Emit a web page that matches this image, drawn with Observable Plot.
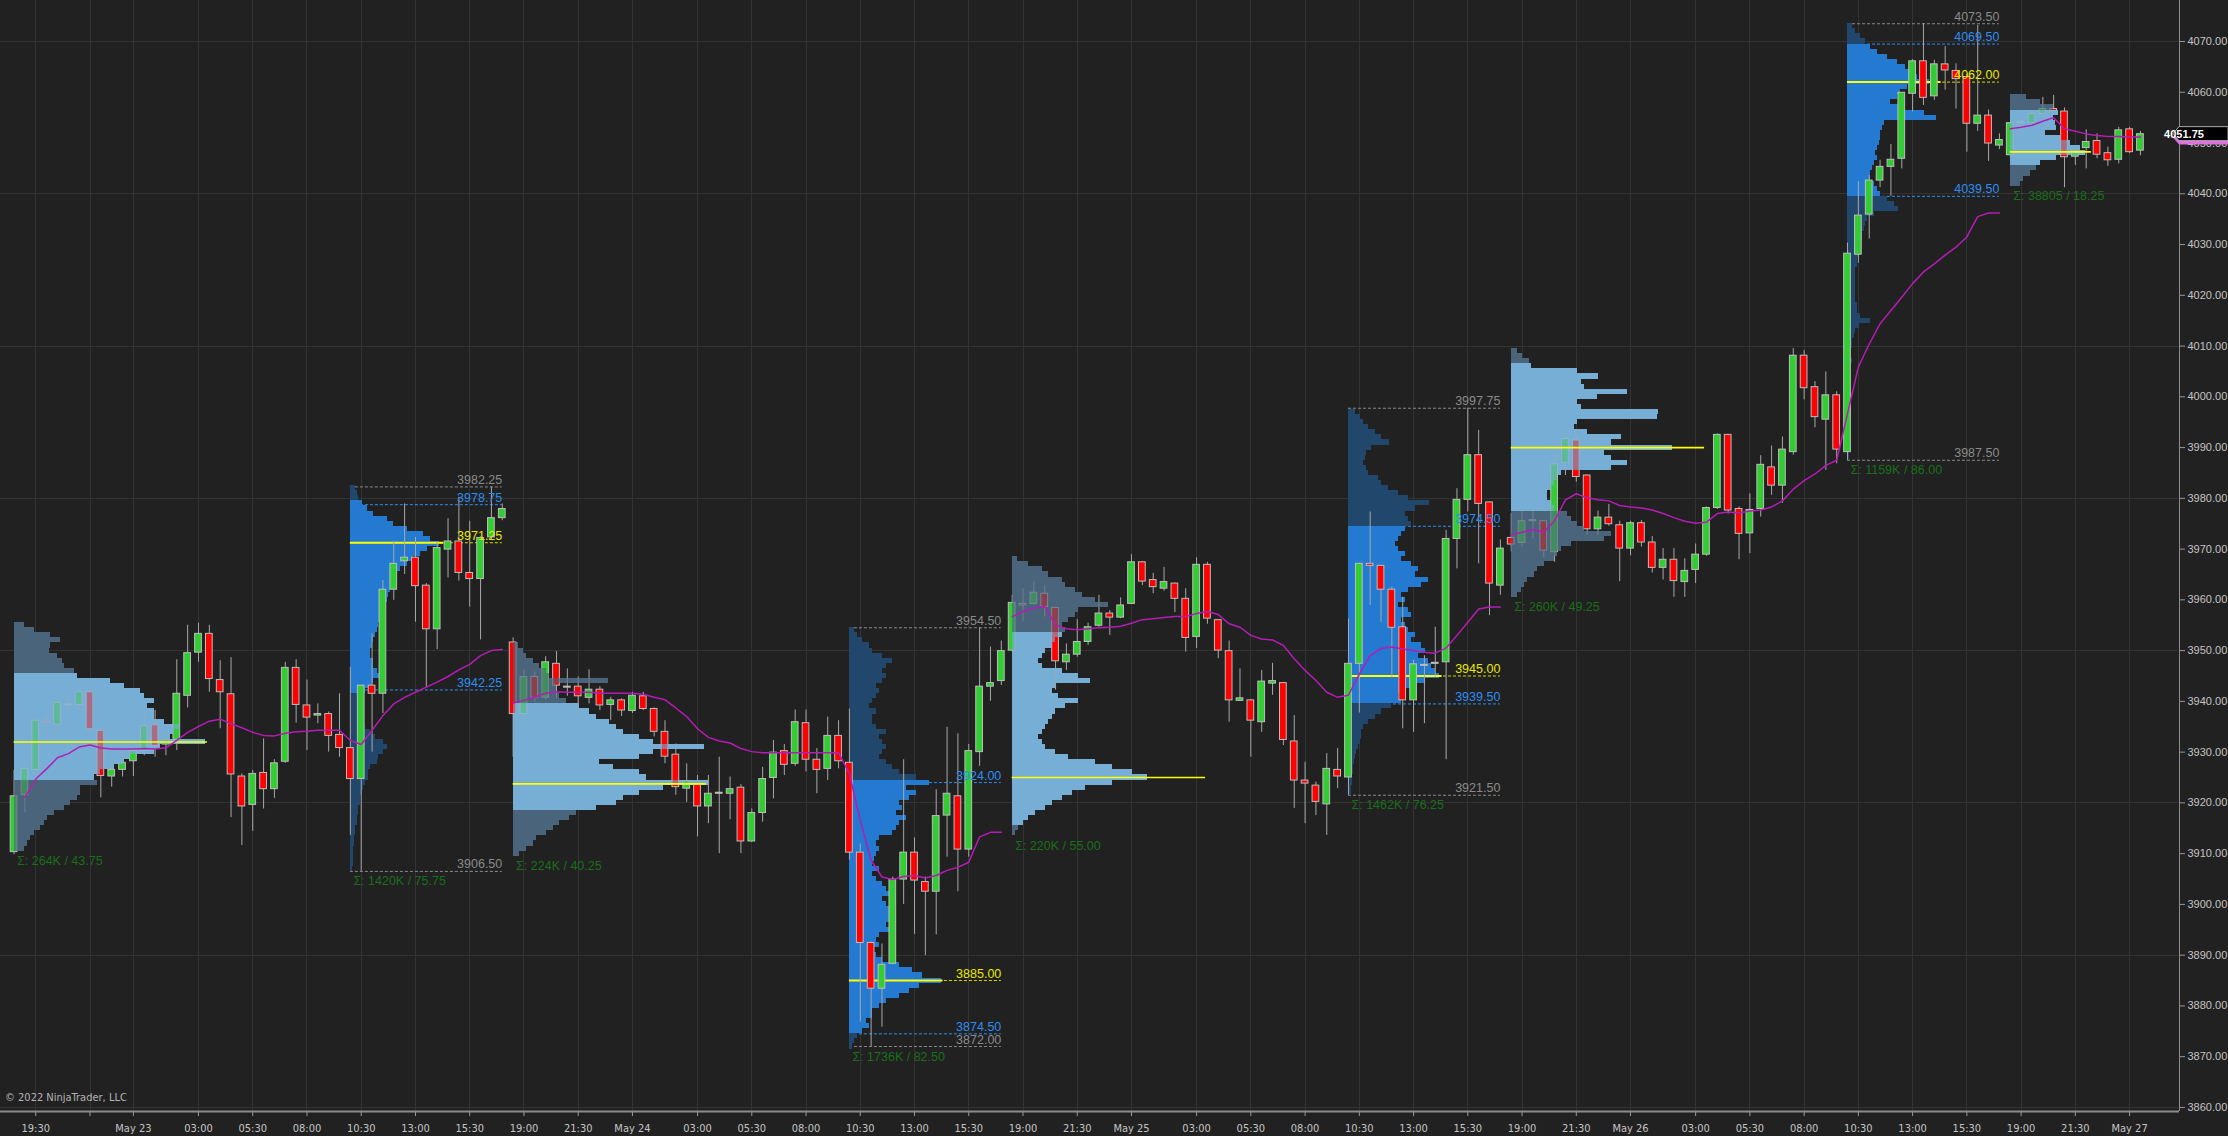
<!DOCTYPE html>
<html><head><meta charset="utf-8">
<script src="https://cdn.jsdelivr.net/npm/d3@7"></script>
<script src="https://cdn.jsdelivr.net/npm/@observablehq/plot@0.6"></script>
<style>
html,body{margin:0;padding:0;background:#212121;overflow:hidden}
#chart{position:relative;width:2228px;height:1136px}
#copy{position:absolute;left:5px;top:1091px;font:11px "Liberation Sans Narrow","DejaVu Sans Condensed","Liberation Sans",sans-serif;font-stretch:condensed;color:#b4b4b4}
</style></head><body><div id="chart"><div id="copy">© 2022 NinjaTrader, LLC</div></div>
<script>
// ---------- candle data (30-min bars, bar index 0 = 18:30 May 22) ----------
const open = [3910.3,3921.5,3926.5,3936.2,3935.4,3939.4,3939.3,3941.8,3934.2,3925.2,
3926.5,3928.2,3930.2,3935.3,3931.5,3932.4,3941.1,3949.6,3953.3,3944.2,
3941.4,3925.2,3919.6,3925.9,3922.7,3928.1,3946.6,3939.2,3937.2,3937.5,
3933.4,3930.8,3924.7,3943.1,3941.5,3962.0,3967.6,3968.3,3962.8,3954.2,
3969.9,3971.5,3965.3,3964.1,3972.3,3976.1,3951.6,3937.5,3944.8,3940.7,
3947.4,3942.9,3942.9,3940.7,3942.3,3939.3,3940.2,3938.1,3941.0,3938.5,
3934.0,3929.5,3922.8,3923.6,3919.3,3921.8,3921.8,3923.0,3912.4,3918.0,
3924.9,3930.2,3927.7,3935.7,3928.5,3926.7,3933.2,3927.9,3910.2,3892.4,
3883.4,3888.3,3904.9,3910.2,3904.4,3902.5,3917.5,3921.3,3910.8,3930.0,
3942.9,3944.0,3950.0,3959.2,3959.2,3961.2,3958.4,3947.7,3949.2,3951.7,
3954.9,3957.3,3956.5,3959.2,3967.4,3963.9,3962.2,3963.2,3960.2,3952.7,
3966.9,3956.0,3949.9,3940.1,3940.2,3935.9,3943.5,3943.6,3932.1,3924.4,
3923.4,3919.7,3926.5,3925.0,3947.4,3967.1,3966.7,3962.0,3954.6,3940.2,
3947.0,3947.4,3947.7,3972.0,3979.7,3988.5,3979.2,3962.8,3972.2,3971.2,
3975.5,3975.5,3969.4,3987.0,3991.4,3984.5,3973.9,3976.2,3974.7,3970.1,
3975.1,3971.3,3966.3,3967.9,3963.5,3965.9,3968.9,3978.1,3992.5,3977.9,
3973.1,3977.9,3986.1,3982.5,3989.1,4008.1,4001.9,3995.5,4000.3,3989.1,
4028.0,4035.9,4042.6,4045.3,4046.9,4059.7,4066.1,4059.2,4065.5,4064.2,
4063.0,4053.8,4055.4,4049.5,4047.6,4053.9,4053.9,4055.75,4056.7,4056.2,
4047.3,4049.0,4050.4,4048.0,4046.7,4052.7,4048.5];
const high = [3926.4,3927.7,3936.9,3937.5,3941.5,3941.5,3942.5,3942.5,3935.2,3928.4,
3932.3,3931.6,3938.2,3938.2,3934.3,3948.2,3955.0,3955.4,3955.0,3948.0,
3948.6,3925.7,3926.4,3932.6,3928.5,3947.7,3948.2,3944.2,3939.5,3937.9,
3941.5,3946.7,3943.1,3953.3,3963.8,3971.4,3978.9,3972.3,3963.2,3971.4,
3976.0,3980.2,3975.5,3972.4,3982.2,3978.9,3952.5,3946.1,3945.8,3948.8,
3949.8,3946.4,3944.8,3946.2,3942.9,3940.8,3940.5,3941.8,3941.8,3938.7,
3936.2,3931.6,3927.7,3925.4,3925.4,3929.0,3925.1,3923.6,3918.8,3927.0,
3932.3,3931.5,3938.3,3938.3,3930.7,3936.9,3936.2,3938.5,3911.9,3892.6,
3892.2,3905.4,3928.5,3913.1,3905.4,3922.6,3934.9,3933.6,3931.5,3954.5,
3950.7,3951.9,3960.9,3962.2,3963.5,3962.8,3958.6,3951.3,3956.1,3955.4,
3960.9,3957.9,3960.4,3968.9,3967.5,3965.2,3966.4,3963.3,3962.2,3968.3,
3967.4,3956.1,3951.9,3946.4,3940.3,3946.1,3947.5,3943.7,3937.2,3928.0,
3924.1,3929.7,3930.7,3956.2,3967.2,3977.3,3966.8,3962.5,3960.5,3948.1,
3949.0,3954.6,3973.7,3981.9,3997.75,3993.4,3979.3,3971.8,3977.0,3977.7,
3977.7,3975.6,3989.3,3992.7,3993.4,3984.6,3977.5,3978.8,3975.5,3975.5,
3975.6,3972.5,3970.1,3970.1,3968.1,3971.0,3978.3,3992.7,3992.6,3978.3,
3980.9,3988.4,3990.3,3992.1,4009.5,4009.1,4003.0,4004.9,4001.0,4030.3,
4042.4,4043.6,4046.6,4049.7,4059.9,4066.4,4073.5,4066.3,4069.0,4065.6,
4063.5,4073.2,4056.5,4051.8,4054.1,4055.4,4056.5,4059.0,4059.4,4056.9,
4049.2,4052.6,4051.8,4049.2,4053.1,4053.1,4052.3];
const low = [3909.8,3918.0,3926.2,3933.0,3930.3,3937.5,3938.2,3933.0,3921.0,3923.1,
3925.1,3925.2,3929.3,3929.0,3929.3,3930.3,3938.7,3947.7,3941.8,3934.6,
3917.1,3911.6,3914.4,3918.8,3920.9,3927.8,3935.7,3930.3,3935.6,3930.0,
3929.0,3913.6,3906.5,3930.0,3937.6,3959.9,3965.0,3955.6,3942.7,3950.2,
3964.3,3963.7,3958.6,3952.1,3971.7,3975.6,3929.0,3936.0,3939.8,3940.2,
3940.5,3941.0,3936.6,3939.5,3938.2,3936.2,3937.0,3937.6,3938.2,3933.0,
3927.7,3921.5,3920.1,3913.3,3915.9,3910.0,3916.7,3910.0,3912.2,3916.2,
3920.8,3925.4,3927.2,3926.1,3921.8,3924.4,3926.7,3908.7,3876.8,3872.0,
3875.8,3888.1,3900.0,3894.1,3889.9,3894.0,3909.3,3902.5,3909.3,3927.2,
3940.0,3943.1,3949.7,3955.6,3958.9,3956.6,3942.2,3946.1,3948.7,3951.0,
3954.6,3953.0,3956.3,3959.1,3962.8,3961.2,3961.7,3957.5,3949.7,3950.4,
3955.2,3948.4,3935.9,3940.0,3929.0,3933.9,3941.2,3931.3,3918.9,3915.9,
3917.5,3913.6,3922.8,3921.5,3937.7,3958.9,3955.6,3944.8,3934.6,3933.9,
3935.6,3944.8,3928.5,3966.1,3977.3,3967.1,3956.9,3960.9,3969.5,3970.4,
3972.0,3968.3,3967.4,3984.5,3983.2,3972.7,3972.7,3974.5,3963.6,3968.7,
3970.4,3965.3,3963.9,3960.5,3960.5,3963.2,3968.6,3977.8,3976.9,3967.9,
3969.1,3976.3,3980.6,3979.0,3988.5,3999.4,3993.9,3985.5,3986.8,3987.5,
4026.3,4031.1,4041.2,4039.5,4044.9,4056.1,4057.4,4058.4,4060.4,4056.7,
4048.2,4052.3,4046.4,4048.7,4047.2,4052.0,4053.5,4055.0,4055.5,4041.2,
4045.6,4044.9,4046.9,4045.4,4045.9,4047.9,4047.5];
const close = [3921.3,3926.7,3936.2,3935.9,3939.7,3939.2,3941.8,3934.5,3925.3,3926.5,
3927.9,3930.2,3935.1,3931.2,3932.4,3941.5,3949.5,3953.3,3944.4,3941.8,
3925.6,3919.3,3925.7,3922.7,3927.8,3946.6,3939.3,3936.8,3937.5,3933.2,
3930.8,3924.7,3943.1,3941.5,3962.0,3967.1,3968.3,3962.7,3954.2,3970.2,
3971.5,3965.3,3964.1,3972.2,3976.1,3977.9,3937.5,3944.8,3940.7,3947.7,
3943.1,3942.7,3941.0,3942.3,3939.2,3940.2,3938.2,3941.1,3938.5,3934.0,
3929.1,3923.1,3924.3,3919.3,3921.8,3921.9,3922.7,3912.4,3918.0,3924.7,
3929.9,3927.5,3935.9,3928.5,3926.5,3933.2,3928.2,3910.2,3892.4,3883.4,
3888.1,3904.9,3910.2,3904.7,3902.5,3917.4,3921.8,3910.8,3930.2,3942.9,
3943.6,3949.9,3959.4,3958.9,3961.4,3958.6,3947.9,3949.2,3951.7,3954.6,
3957.3,3956.5,3958.9,3967.4,3963.6,3962.5,3963.5,3960.2,3952.5,3966.9,
3956.3,3950.0,3940.2,3940.6,3936.2,3943.9,3944.0,3932.4,3924.4,3923.8,
3920.2,3926.7,3925.2,3947.4,3967.1,3966.7,3962.0,3954.5,3940.2,3947.3,
3947.1,3947.4,3972.0,3979.7,3988.5,3978.9,3963.2,3970.1,3970.9,3975.5,
3975.5,3969.7,3986.7,3991.7,3984.2,3973.9,3976.2,3974.9,3970.1,3975.1,
3971.3,3966.3,3967.9,3963.7,3965.7,3968.9,3978.1,3992.5,3977.6,3973.0,
3977.7,3986.6,3982.5,3989.6,4008.1,4001.7,3996.0,4000.3,3989.6,4028.2,
4035.7,4042.6,4045.3,4046.7,4059.9,4066.1,4058.9,4065.5,4064.3,4062.6,
4053.8,4055.4,4049.9,4050.6,4053.9,4053.9,4055.75,4056.7,4056.3,4047.2,
4048.4,4050.2,4047.7,4046.6,4052.5,4048.2,4051.75];
// session VWAP (magenta), read per bar; null = not drawn
const vwap = [null,3921.1,3924.7,3926.7,3928.9,3929.7,3931.0,3931.4,3930.8,3930.6,
3930.6,3930.6,3930.7,3930.6,3930.85,3932.3,3933.9,3935.05,3936.1,3936.5,
3935.6,3934.8,3933.9,3933.3,3933.2,3933.7,3934.0,3934.1,3934.3,3934.3,
3934.3,3932.3,3931.5,3934.3,3937.2,3939.5,3940.8,3941.8,3942.8,3943.8,
3944.9,3946.2,3947.3,3949.0,3950.0,3950.2,3939.7,3940.2,3940.8,3941.6,
3941.9,3941.8,3941.8,3941.8,3941.6,3941.6,3941.6,3941.6,3941.4,3940.8,
3940.3,3938.7,3937.0,3934.6,3932.9,3932.2,3931.8,3930.7,3930.1,3929.9,
3929.9,3929.9,3929.9,3929.9,3929.9,3929.9,3929.9,3925.7,3916.5,3908.7,
3905.4,3904.9,3905.5,3905.7,3905.2,3905.7,3906.7,3907.3,3908.3,3913.3,
3914.2,3914.2,3956.7,3957.7,3958.4,3958.7,3955.0,3954.3,3954.1,3954.3,
3954.5,3954.6,3954.8,3955.4,3956.1,3956.3,3956.5,3956.7,3956.7,3957.3,
3957.7,3957.1,3955.3,3954.6,3953.0,3952.3,3952.1,3951.0,3948.4,3946.1,
3944.1,3941.8,3940.8,3941.2,3945.4,3949.0,3950.4,3950.7,3950.3,3950.0,
3949.7,3949.5,3950.5,3953.0,3955.6,3958.2,3958.6,3958.6,3972.8,3973.3,
3973.8,3973.3,3975.6,3979.7,3980.9,3980.1,3979.7,3979.5,3978.6,3978.3,
3978.1,3977.7,3977.0,3976.2,3975.5,3975.1,3975.3,3977.0,3977.3,3977.1,
3977.5,3977.7,3978.3,3979.5,3981.8,3983.5,3984.8,3986.5,3987.5,3996.7,
4005.9,4010.4,4014.4,4017.0,4019.6,4022.3,4024.6,4026.2,4027.9,4029.5,
4031.5,4035.5,4036.2,4036.2,4052.8,4053.1,4053.5,4054.3,4055.0,4052.8,
4052.3,4051.8,4051.5,4051.3,4051.3,4051.2,4051.2];
const tradingDayStart = [0, 46, 92, 138, 184];

// ---------- time axis ----------
const tickBars = [2,7,11,17,22,27,32,37,42,47,52,57,63,68,73,78,83,88,93,98,103,109,114,119,124,129,134,139,144,149,155,160,165,170,175,180,185,190,195];
const tickLabels = ["19:30","","May 23","03:00","05:30","08:00","10:30","13:00","15:30","19:00","21:30","May 24","03:00","05:30","08:00","10:30","13:00","15:30","19:00","21:30","May 25","03:00","05:30","08:00","10:30","13:00","15:30","19:00","21:30","May 26","03:00","05:30","08:00","10:30","13:00","15:30","19:00","21:30","May 27"];
const priceTicks = d3.range(3860, 4071, 10);
const priceGrid = d3.range(3860, 4071, 30);

// ---------- sessions / volume profiles ----------
const sessKind  = ["ETH","RTH","ETH","RTH","ETH","RTH","ETH","RTH","ETH"];
const sessStart = [0,31,46,77,92,123,138,169,184];
const sessEnd   = [30,45,76,91,122,137,168,183,196];
const sessHigh  = [3955.25,3982.25,3951.25,3954.50,3968.75,3997.75,4009.75,4073.50,4059.50];
const sessLow   = [3910.5,3906.50,3909.5,3872.00,3913.5,3921.50,3960.5,3987.50,4041.5];
const sessVAH   = [3945.0,3978.75,3939.25,3924.00,3953.0,3974.50,4006.0,4069.50,4055.75];
const sessVAL   = [3925.0,3942.25,3918.5,3874.50,3916.25,3939.50,3977.5,4039.50,4046.25];
const sessPOC   = [3932.0,3971.25,3923.75,3885.00,3925.0,3945.00,3990.0,4062.00,4048.25];
const sessSum   = ["Σ: 264K / 43.75","Σ: 1420K / 75.75","Σ: 224K / 40.25","Σ: 1736K / 82.50","Σ: 220K / 55.00","Σ: 1462K / 76.25","Σ: 260K / 49.25","Σ: 1159K / 86.00","Σ: 38805 / 18.25"];
// volume at price, 1-point rows, from profBase upward (relative units)
const profBase = [3911,3907,3910,3872,3914,3922,3961,3988,4042];
const prof0 = [30,40,50,60,80,90,100,120,150,170,190,200,200,250,240,260,300,330,350,420,440,575,470,480,500,450,420,420,400,420,390,380,330,290,190,180,150,145,130,105,110,140,110,60,30];
const prof1 = [6,8,8,10,10,12,12,15,15,20,20,25,25,30,30,35,40,45,55,55,60,80,85,100,110,100,75,60,45,40,35,40,40,40,40,45,65,70,100,80,70,70,60,60,65,70,75,80,85,90,95,100,105,110,115,120,125,130,140,150,170,190,210,230,267,240,220,170,130,110,70,50,35,25,20,15];
const prof2 = [20,40,60,70,100,120,140,170,190,250,310,330,380,450,585,400,380,300,260,380,420,575,420,380,330,310,290,250,230,200,160,140,130,130,285,110,100,80,60,40,30,15];
const prof3 = [10,15,25,40,60,50,70,70,90,110,150,180,210,275,220,190,150,100,80,70,90,80,90,120,110,140,120,130,110,100,120,110,100,80,70,90,70,75,80,90,80,90,130,140,150,170,140,160,150,180,200,170,240,200,150,130,110,90,100,110,100,90,110,80,70,70,80,60,70,80,90,80,100,110,100,110,130,100,70,60,40,25,15];
const prof4 = [10,20,35,50,70,100,120,150,180,220,300,407,360,300,250,170,130,100,90,80,90,100,110,120,130,160,200,140,120,130,235,200,150,90,80,90,100,120,130,150,160,150,170,190,200,290,250,210,190,160,150,110,90,50,15];
const prof5 = [8,10,12,12,15,15,18,20,25,30,35,40,40,45,60,80,100,130,160,150,170,190,230,273,260,250,240,210,230,220,190,200,180,170,160,190,180,150,170,160,180,220,240,200,210,190,160,170,150,140,150,160,170,190,180,170,200,242,180,150,120,100,90,60,55,45,50,55,70,122,100,80,60,45,35,20];
const prof6 = [20,30,40,50,70,80,100,130,140,150,180,280,300,220,200,180,170,130,120,110,110,120,130,140,150,300,350,300,280,483,300,330,230,190,200,440,443,210,200,260,350,220,210,263,200,60,55,35,20];
const prof7 = [5,5,6,6,6,8,8,8,10,8,8,10,8,10,10,12,10,10,12,15,10,12,15,15,20,25,35,70,40,30,30,25,25,25,25,25,25,25,30,30,35,40,40,45,45,50,55,60,80,153,140,120,100,90,80,70,70,75,80,90,85,90,95,100,100,105,110,266,230,170,130,150,160,180,245,210,190,175,150,120,90,70,55,40,25,15];
const prof8 = [30,40,60,80,90,140,225,210,180,150,105,140,135,130,145,130,90,50];
const profiles = [prof0,prof1,prof2,prof3,prof4,prof5,prof6,prof7,prof8];

// ---------- derived tables ----------
const N = open.length;
const dayOf = i => d3.bisectRight(tradingDayStart, i) - 1;
const bars = d3.range(N).map(i => ({i, o: open[i], h: high[i], l: low[i], c: close[i]}));
const vw = d3.range(N).filter(i => vwap[i] != null).map(i => ({i, v: vwap[i], day: dayOf(i)}));
const sessions = sessKind.map((kind, k) => ({
  kind, start: sessStart[k], end: sessEnd[k], hi: sessHigh[k], lo: sessLow[k],
  vah: sessVAH[k], val: sessVAL[k], poc: sessPOC[k], sum: sessSum[k],
  pocLen: (sessEnd[k] - sessStart[k] + 1) * 0.575
}));
const UNITS_PER_BAR = 32.55;
const rows = sessions.flatMap((s, k) => profiles[k].map((v, j) => {
  const p = profBase[k] + j;
  return {kind: s.kind, p, x1: s.start, x2: s.start + v / UNITS_PER_BAR,
          va: p >= s.val - 0.25 && p <= s.vah + 0.25};
}));
const rthRows = rows.filter(r => r.kind === "RTH");
const ethRows = rows.filter(r => r.kind === "ETH");
const rthSess = sessions.filter(s => s.kind === "RTH");
const ethSess = sessions.filter(s => s.kind === "ETH");
const GRAY = "#8a8a8a", BLUE = "#2d8ef0", YEL = "#ffff00";
const rthLabels = rthSess.flatMap(s => [
  {x: s.end, y: s.hi, t: s.hi.toFixed(2), color: GRAY},
  {x: s.end, y: s.vah, t: s.vah.toFixed(2), color: BLUE},
  {x: s.end, y: s.poc, t: s.poc.toFixed(2), color: "#e8e800"},
  {x: s.end, y: s.val, t: s.val.toFixed(2), color: BLUE},
  {x: s.end, y: s.lo, t: s.lo.toFixed(2), color: GRAY}
]);
const labelMap = new Map(tickBars.map((b, i) => [b, tickLabels[i]]));

const xDomain = [-1.25, 199.6];
const yDomain = [3859.2, 4078.08];
const rowY1 = d => d.p - 0.5, rowY2 = d => d.p + 0.5;
const ethFill = d => d.va ? "#76aed6" : "#4b657b";
const bodyFill = d => d.c > d.o ? "#32cd32" : d.c < d.o ? "#ff0000" : "#d0d0d0";
const dash = "3,2";
const crisp = "crispEdges";
const narrow = "'Liberation Sans Narrow','DejaVu Sans Condensed','Liberation Sans',sans-serif";

const plot = Plot.plot({
  width: 2228, height: 1136,
  marginLeft: 0, marginRight: 49, marginTop: 0, marginBottom: 25,
  x: {domain: xDomain, axis: null},
  y: {domain: yDomain, axis: null},
  color: {type: "identity"},
  style: {background: "#212121", color: "#c4c4c4", fontFamily: "'Liberation Sans',Arial,sans-serif", fontSize: "11px"},
  marks: [
    Plot.gridX(tickBars, {stroke: "#333333", strokeOpacity: 1, shapeRendering: crisp}),
    Plot.gridY(priceGrid, {stroke: "#333333", strokeOpacity: 1, shapeRendering: crisp}),
    // RTH reference lines (dashed)
    Plot.ruleY(rthSess, {y: "hi", x1: "start", x2: "end", stroke: GRAY, strokeDasharray: dash}),
    Plot.ruleY(rthSess, {y: "lo", x1: "start", x2: "end", stroke: GRAY, strokeDasharray: dash}),
    Plot.ruleY(rthSess, {y: "vah", x1: "start", x2: "end", stroke: BLUE, strokeDasharray: dash}),
    Plot.ruleY(rthSess, {y: "val", x1: "start", x2: "end", stroke: BLUE, strokeDasharray: dash}),
    Plot.ruleY(rthSess, {y: "poc", x1: "start", x2: "end", stroke: "#d8d800", strokeDasharray: dash}),
    // RTH profiles (behind candles)
    Plot.rect(rthRows, {x1: "x1", x2: "x2", y1: rowY1, y2: rowY2, fill: d => d.va ? "#2479d0" : "#21476d", shapeRendering: crisp}),
    Plot.ruleY(rthSess, {y: "poc", x1: "start", x2: d => d.start + d.pocLen, stroke: YEL, strokeWidth: 2}),
    // ETH profiles underlay
    Plot.rect(ethRows, {x1: "x1", x2: "x2", y1: rowY1, y2: rowY2, fill: ethFill, shapeRendering: crisp}),
    // candles
    Plot.ruleX(bars, {x: "i", y1: "l", y2: "h", stroke: "#a8a8a8", strokeWidth: 1}),
    Plot.rect(bars, {x1: d => d.i - 0.31, x2: d => d.i + 0.31, y1: "o",
      y2: d => Math.abs(d.c - d.o) < 0.2 ? d.o + 0.2 : d.c,
      fill: bodyFill, stroke: "#bdbdbd", strokeWidth: 1}),
    // ETH profiles overlay (semi transparent, tints candles)
    Plot.rect(ethRows, {x1: "x1", x2: "x2", y1: rowY1, y2: rowY2, fill: ethFill, fillOpacity: 0.62, shapeRendering: crisp}),
    Plot.ruleY(ethSess, {y: "poc", x1: "start", x2: d => d.start + d.pocLen, stroke: YEL, strokeWidth: 1.6}),
    // VWAP
    Plot.lineY(vw, {x: "i", y: "v", z: "day", stroke: "#b51cb5", strokeWidth: 1.5}),
    // labels
    Plot.text(rthLabels, {x: "x", y: "y", text: "t", fill: "color", textAnchor: "end", dy: -7, fontSize: 12.5}),
    Plot.text(sessions, {x: "start", y: "lo", text: "sum", fill: "#1a6e1a", textAnchor: "start", dx: 3, dy: 10, fontSize: 12.5}),
    // axes
    Plot.axisY(priceTicks, {anchor: "right", tickSize: 5, tickPadding: 3, tickFormat: d => d.toFixed(2), fontSize: 11, stroke: "#9a9a9a"}),
    Plot.axisX(tickBars, {anchor: "bottom", tickSize: 5, tickPadding: 8, tickFormat: d => labelMap.get(d), fontSize: 11, fontFamily: narrow, stroke: "#9a9a9a"}),
    Plot.ruleX([xDomain[1]], {stroke: "#8c8c8c"}),
    Plot.ruleY([yDomain[0]], {stroke: "#8c8c8c", strokeWidth: 2})
  ]
});
document.getElementById("chart").appendChild(plot);

// last price / VWAP markers on the price axis
const svg = d3.select(plot);
const ys = plot.scale("y"), xs = plot.scale("x");
const xr = xs.apply(xDomain[1]);
const lastP = close[N - 1], lastV = vwap[N - 1];
const tag = (y, h) => `M${xr - 6},${y} L${xr},${y - h / 2} L2228,${y - h / 2} L2228,${y + h / 2} L${xr},${y + h / 2} Z`;
svg.append("path").attr("d", tag(ys.apply(lastV) + 1, 14)).attr("fill", "#e070e0");
svg.append("path").attr("d", tag(ys.apply(lastP), 14)).attr("fill", "#000").attr("stroke", "#d0d0d0").attr("stroke-width", 0.8);
svg.append("text").attr("x", xr + 5).attr("y", ys.apply(lastP) + 4)
  .attr("fill", "#fff").attr("font-size", 11).attr("font-weight", "bold")
  .attr("font-family", "'Liberation Sans',Arial,sans-serif").text(lastP.toFixed(2));
</script></body></html>
